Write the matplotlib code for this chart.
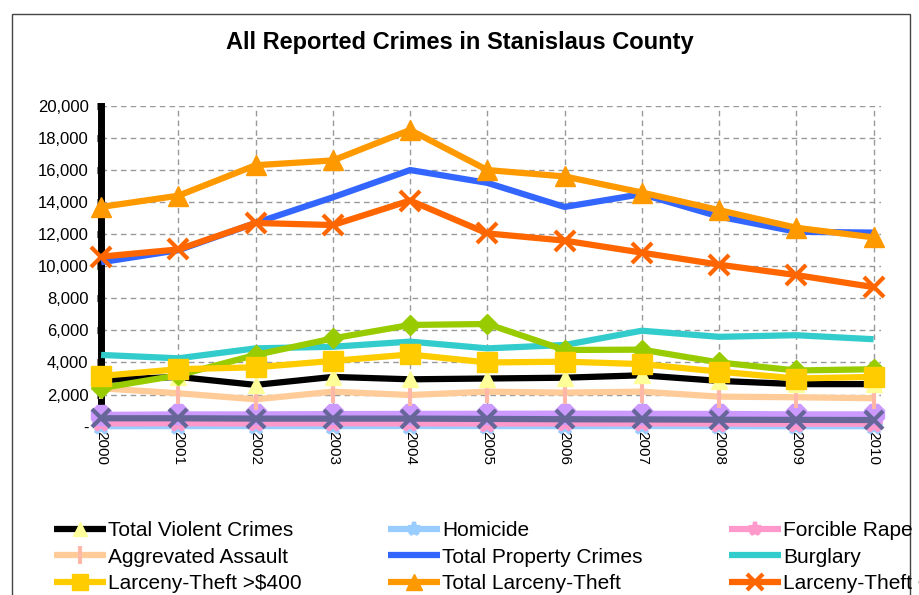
import matplotlib.pyplot as plt
from matplotlib.patches import Rectangle
from matplotlib.ticker import FuncFormatter

years = list(range(2000, 2011))

# values
total_violent = [2900, 3100, 2600, 3100, 2950, 3000, 3050, 3200, 2850, 2650, 2650]
homicide = [25, 30, 35, 30, 40, 35, 30, 35, 30, 25, 25]
forcible_rape = [200, 210, 200, 210, 200, 190, 200, 200, 190, 180, 180]
aggravated_assault = [2390, 2080, 1700, 2180, 1970, 2180, 2120, 2180, 1870, 1830, 1770]
total_property = [10250, 11000, 12700, 14300, 16000, 15200, 13700, 14500, 13100, 12150, 12100]
burglary = [4470, 4260, 4880, 4980, 5300, 4880, 5090, 5980, 5600, 5700, 5450]
larceny_over = [3160, 3580, 3700, 4100, 4500, 4000, 4050, 3900, 3430, 3000, 3100]
total_larceny = [13700, 14400, 16300, 16600, 18500, 16000, 15600, 14600, 13500, 12400, 11800]
larceny_under = [10600, 11050, 12700, 12570, 14100, 12050, 11600, 10850, 10100, 9450, 8700]
# series whose legend entries are cut off in the picture
green_series = [2400, 3200, 4470, 5500, 6340, 6400, 4780, 4800, 4000, 3500, 3580]
lavender_series = [730, 760, 760, 780, 790, 800, 810, 800, 790, 760, 760]
purple_series = [520, 520, 500, 500, 500, 480, 460, 450, 430, 420, 410]

plt.rcParams['font.family'] = ['Liberation Sans', 'DejaVu Sans']

fig = plt.figure(figsize=(9.19, 5.95), dpi=100)
ax = fig.add_axes([0.110, 0.283, 0.849, 0.539])

lw = 4.5
# (values, line colour, marker, marker colour, marker size, label, zorder)
series = [
    (homicide, '#99CCFF', '*', '#99CCFF', 12, 'Homicide', 3),
    (forcible_rape, '#FF99CC', '*', '#FF99CC', 12, 'Forcible Rape', 4),
    (lavender_series, '#CC99FF', '8', '#CC99FF', 15, '_lavender', 5),
    (purple_series, '#666699', 'x', '#666699', 13, '_purple', 6),
    (aggravated_assault, '#FFCC99', '|', '#FFB8A8', 16, 'Aggrevated Assault', 7),
    (total_violent, '#000000', '^', '#FFFF99', 12, 'Total Violent Crimes', 8),
    (burglary, '#33CCCC', None, None, 0, 'Burglary', 9),
    (green_series, '#99CC00', 'D', '#99CC00', 10, '_green', 10),
    (larceny_over, '#FFCC00', 's', '#FFCC00', 14, 'Larceny-Theft >$400', 11),
    (total_property, '#3366FF', None, None, 0, 'Total Property Crimes', 12),
    (larceny_under, '#FF6600', 'x', '#FF6600', 15, 'Larceny-Theft <$400', 13),
    (total_larceny, '#FF9900', '^', '#FF9900', 15, 'Total Larceny-Theft', 14),
]

handles = {}
for vals, col, mk, mcol, ms, label, z in series:
    mew = 3 if mk in ('x', '|', '*') else 1
    h, = ax.plot(years, vals, color=col, lw=lw, marker=mk, markersize=ms,
                 markerfacecolor=mcol, markeredgecolor=mcol, markeredgewidth=mew,
                 label=label, zorder=z, solid_capstyle='butt', clip_on=False)
    handles[label] = h

ax.set_xlim(2000, 2010.1)
ax.set_ylim(0, 20000)
ax.set_yticks(range(0, 20001, 2000))
ax.yaxis.set_major_formatter(FuncFormatter(lambda v, p: '-' if v == 0 else f'{int(v):,}'))
ax.set_xticks(years)
ax.set_xticklabels([str(y) for y in years], rotation=-90, fontsize=11)
ax.tick_params(axis='x', length=0, pad=3)
ax.tick_params(axis='y', length=3, width=5, color='black', labelsize=12, pad=6)

ax.grid(True, color='#999999', linestyle=(0, (4, 3)), linewidth=1)
ax.set_axisbelow(True)
for s in ['top', 'right', 'bottom']:
    ax.spines[s].set_visible(False)
ax.spines['left'].set_linewidth(5)
ax.spines['left'].set_zorder(2)

fig.text(0.5, 0.929, 'All Reported Crimes in Stanislaus County', ha='center', va='center',
         fontsize=17, fontweight='bold')

# legend fills column by column, so list it column-wise to get the picture's rows
order = ['Total Violent Crimes', 'Aggrevated Assault', 'Larceny-Theft >$400',
         'Homicide', 'Total Property Crimes', 'Total Larceny-Theft',
         'Forcible Rape', 'Burglary', 'Larceny-Theft <$400']
leg = fig.legend([handles[k] for k in order], order, ncol=3, loc='upper left',
                 bbox_to_anchor=(0.047, 0.142), frameon=False, fontsize=15,
                 handlelength=2.5, handletextpad=0.1, columnspacing=4.15,
                 labelspacing=0.37, borderpad=0, markerscale=0.8)

fig.patches.append(Rectangle((12 / 919, -0.2), 898 / 919, 1.2 - 14 / 595,
                             transform=fig.transFigure, fill=False,
                             edgecolor='#444444', linewidth=1))

fig.savefig('out.png', dpi=100)
